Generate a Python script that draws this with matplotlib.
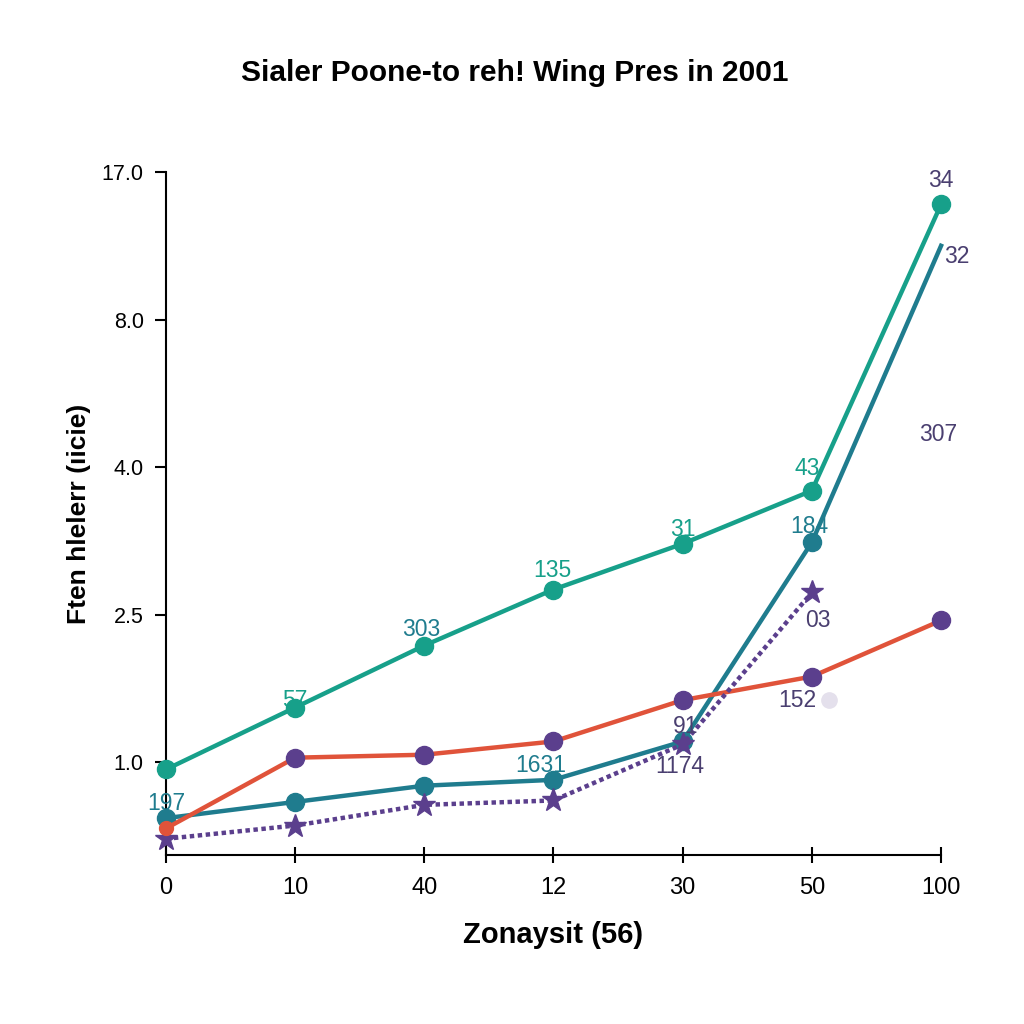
#import the libraries
import numpy as np
import matplotlib.pyplot as plt

plt.rcParams['font.family'] = ['Liberation Sans', 'DejaVu Sans']

#the data (y values are in tick-step units: 0 -> 1.0, 1 -> 2.5, 2 -> 4.0, 3 -> 8.0, 4 -> 17.0)
x_labels = ['0', '10', '40', '12', '30', '50', '100']
y_labels = ['1.0', '2.5', '4.0', '8.0', '17.0']

green_line = [-0.05, 0.37, 0.79, 1.17, 1.48, 1.84, 3.78]
teal_line = [-0.38, -0.27, -0.16, -0.12, 0.14, 1.49, 3.50]
red_line = [-0.45, 0.03, 0.05, 0.14, 0.42, 0.58, 0.96]
star_line = [-0.52, -0.43, -0.29, -0.26, 0.12, 1.15]

#value labels: text, x position, y position, colour key
labels = [('34', 6.0, 3.94, 'p'), ('32', 6.12, 3.43, 'p'), ('307', 5.98, 2.22, 'p'),
          ('43', 4.96, 1.99, 'g'), ('184', 4.98, 1.60, 't'), ('03', 5.05, 0.96, 'p'),
          ('152', 4.89, 0.42, 'p'), ('31', 4.0, 1.58, 'g'), ('135', 2.99, 1.30, 'g'),
          ('303', 1.98, 0.90, 't'), ('57', 1.0, 0.42, 'g'), ('91', 4.02, 0.24, 'p'),
          ('1174', 3.98, -0.03, 'p'), ('1631', 2.90, -0.02, 't'), ('197', 0.0, -0.28, 't')]

green = '#17a08a'
teal = '#1f7c8e'
red = '#e0533a'
purple = '#5b3f8d'
text_purple = '#4a3f70'
colours = {'g': green, 't': teal, 'p': text_purple}

x = np.arange(len(x_labels))

fig = plt.figure(figsize=(10.24, 10.24), dpi=100)
ax = fig.add_axes([0.162, 0.165, 0.757, 0.667])

#the lines
ax.plot(x, green_line, color=green, lw=3.2, marker='o', ms=13, clip_on=False, zorder=4)
ax.plot(x, teal_line, color=teal, lw=3.2, marker='o', ms=13, markevery=[0, 1, 2, 3, 4, 5],
        clip_on=False, zorder=3)
ax.plot(x, red_line, color=red, lw=3.2, marker='o', ms=13, mfc=purple, mec=purple,
        markevery=[1, 2, 3, 4, 5, 6], clip_on=False, zorder=3)
ax.plot(x[0], red_line[0], color=red, marker='o', ms=10, clip_on=False, zorder=5)
ax.plot(x[:len(star_line)], star_line, color=purple, lw=3.2, ls=(0, (1, 0.8)), marker='*',
        ms=17, clip_on=False, zorder=3)
ax.plot(5.13, 0.42, 'o', color='#e4e0ec', ms=11, zorder=2)

#the value labels
for txt, lx, ly, c in labels:
    ax.text(lx, ly, txt, color=colours[c], fontsize=16.5, fontweight='medium',
            ha='center', va='center', zorder=6)

ax.set_xlim(0, 6)
ax.set_ylim(-0.63, 4)
ax.set_xticks(x)
ax.set_xticklabels(x_labels)
ax.set_yticks(np.arange(len(y_labels)))
ax.set_yticklabels(y_labels)
ax.tick_params(axis='x', direction='inout', length=12, width=1.5, labelsize=17, pad=10)
ax.tick_params(axis='y', direction='out', length=8, width=1.5, labelsize=15.5, pad=8)
for side in ['top', 'right']:
    ax.spines[side].set_visible(False)
for side in ['left', 'bottom']:
    ax.spines[side].set_linewidth(1.5)

fig.text(0.503, 0.929, 'Sialer Poone-to reh! Wing Pres in 2001', fontsize=21.5,
         fontweight='bold', ha='center', va='center')
ax.set_xlabel('Zonaysit (56)', fontsize=21, fontweight='bold', labelpad=16)
ax.set_ylabel('Ften hlelerr (ıicie)', fontsize=19, fontweight='bold', labelpad=8)

plt.savefig('out.png')
